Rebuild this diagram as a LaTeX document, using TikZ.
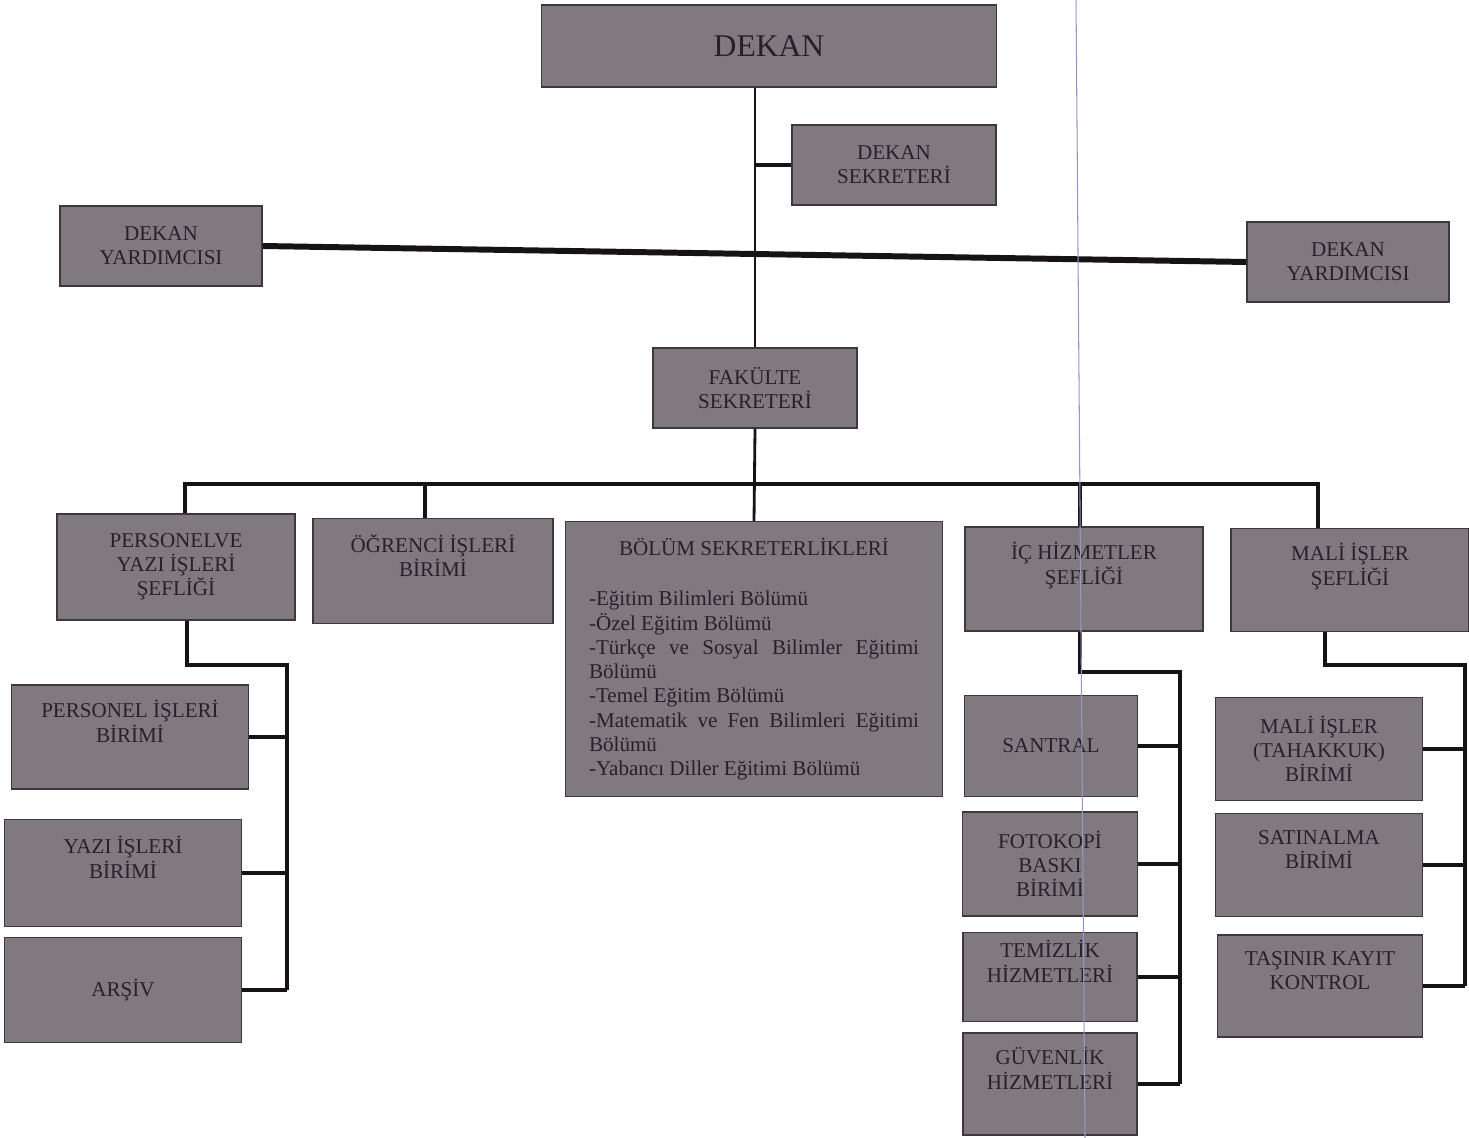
\documentclass[tikz,border=0pt]{standalone}
\usepackage{fontspec}
\setmainfont{Liberation Serif}
\usepackage{tikz}

\definecolor{boxgray}{RGB}{128,122,128}
\definecolor{boxline}{RGB}{62,56,62}
\definecolor{boxtext}{RGB}{40,32,40}
\definecolor{linecol}{RGB}{22,18,22}
\definecolor{scancol}{RGB}{150,152,195}
\newcommand{\upline}{\\\strut}

\begin{document}
\begin{tikzpicture}[x=0.02cm,y=-0.02cm]
		\tikzset{box/.style={draw=boxline, fill=boxgray, line width=0.8pt, inner sep=1pt, align=center, text=boxtext, font=\fontsize{12}{13.8}\selectfont}};
		\tikzset{conn/.style={draw=linecol, line width=2.3pt}};
		\useasboundingbox (0,0) rectangle (1469,1138);
		% top
		\node[box, minimum width=9.1cm, minimum height=1.64cm, font=\fontsize{18}{20}\selectfont] (dekan) at (769,46) {DEKAN};
		\node[box, minimum width=4.08cm, minimum height=1.6cm] (dsek) at (894,165) {DEKAN\\SEKRETERİ};
		\node[box, minimum width=4.04cm, minimum height=1.6cm] (yardL) at (161,246) {DEKAN\\YARDIMCISI};
		\node[box, minimum width=4.04cm, minimum height=1.6cm] (yardR) at (1348,262) {DEKAN\\YARDIMCISI};
		\node[box, minimum width=4.08cm, minimum height=1.6cm] (fak) at (755,388) {FAKÜLTE\\SEKRETERİ};
		% second row
		\node[box, minimum width=4.76cm, minimum height=2.12cm] (pers) at (176,567) {PERSONELVE\\YAZI İŞLERİ\\ŞEFLİĞİ};
		\node[box, minimum width=4.8cm, minimum height=2.1cm] (ogr) at (433,571) {ÖĞRENCİ İŞLERİ\\BİRİMİ\upline};
		\node[box, minimum width=7.54cm, minimum height=5.5cm, text width=6.6cm, align=justify] (bolum) at (754,659) {\makebox[\linewidth]{BÖLÜM SEKRETERLİKLERİ}\\[15pt]
			-Eğitim Bilimleri Bölümü\\
			-Özel Eğitim Bölümü\\
			-Türkçe ve Sosyal Bilimler Eğitimi Bölümü\\
			-Temel Eğitim Bölümü\\
			-Matematik ve Fen Bilimleri Eğitimi Bölümü\\
			-Yabancı Diller Eğitimi Bölümü};
		\node[box, minimum width=4.76cm, minimum height=2.08cm] (ic) at (1084,579) {İÇ HİZMETLER\\ŞEFLİĞİ\upline};
		\node[box, minimum width=4.76cm, minimum height=2.06cm] (mali) at (1350,580) {MALİ İŞLER\\ŞEFLİĞİ\upline};
		% units
		\node[box, minimum width=4.74cm, minimum height=2.08cm] (pib) at (130,737) {PERSONEL İŞLERİ\\BİRİMİ\upline};
		\node[box, minimum width=4.74cm, minimum height=2.14cm] (yib) at (123,873) {YAZI İŞLERİ\\BİRİMİ\upline};
		\node[box, minimum width=4.74cm, minimum height=2.1cm] (arsiv) at (123,990) {ARŞİV};
		\node[box, minimum width=3.46cm, minimum height=2.02cm] (santral) at (1051,746) {SANTRAL};
		\node[box, minimum width=3.5cm, minimum height=2.08cm] (foto) at (1050,864) {FOTOKOPİ\\BASKI\\BİRİMİ};
		\node[box, minimum width=3.48cm, minimum height=1.78cm] (temiz) at (1050,977) {TEMİZLİK\\HİZMETLERİ\upline};
		\node[box, minimum width=3.48cm, minimum height=2.04cm] (guv) at (1050,1084) {GÜVENLİK\\HİZMETLERİ\upline};
		\node[box, minimum width=4.14cm, minimum height=2.06cm] (tah) at (1319,749) {MALİ İŞLER\\(TAHAKKUK)\\BİRİMİ};
		\node[box, minimum width=4.14cm, minimum height=2.06cm] (sat) at (1319,865) {SATINALMA\\BİRİMİ\upline};
		\node[box, minimum width=4.1cm, minimum height=2.04cm] (tas) at (1320,986) {TAŞINIR KAYIT\\KONTROL\upline};
		% connectors
		\draw[conn, line width=1.6pt] (dekan.south -| fak.north) -- (fak.north);
		\draw[conn] (dsek.west) -- (dsek.west -| fak.north);
		\draw[conn, line width=3.4pt] (yardL.east) -- (yardR.west);
		\draw[conn, line width=1.6pt] (fak.south) -- (bolum.north);
		\coordinate (barL) at (185,484);
		\coordinate (barR) at (1318,484);
		\draw[conn] (pers.north -| barL) -- (barL) -- (barR) -- (mali.north -| barR);
		\foreach \n/\x in {ogr/425, ic/1080}
			\draw[conn] (\x,484) -- (\n.north -| \x,0);
		% left group
		\coordinate (lbus) at (287,665);
		\draw[conn] (pers.south -| 187,0) |- (lbus) -- (arsiv.east -| lbus);
		\foreach \n in {pib, yib, arsiv}
			\draw[conn] (\n.east) -- (\n.east -| lbus);
		% ic group
		\coordinate (ibus) at (1180,672);
		\draw[conn] (ic.south -| 1080,0) |- (ibus) -- (guv.east -| ibus);
		\foreach \n in {santral, foto, temiz, guv}
			\draw[conn] (\n.east) -- (\n.east -| ibus);
		% mali group
		\coordinate (mbus) at (1465,665);
		\draw[conn] (mali.south -| 1325,0) |- (mbus) -- (tas.east -| mbus);
		\foreach \n in {tah, sat, tas}
			\draw[conn] (\n.east) -- (\n.east -| mbus);
		% scan line
		\draw[scancol, line width=0.6pt] (1076,0) -- (1085,1138);
	\end{tikzpicture}
\end{document}
